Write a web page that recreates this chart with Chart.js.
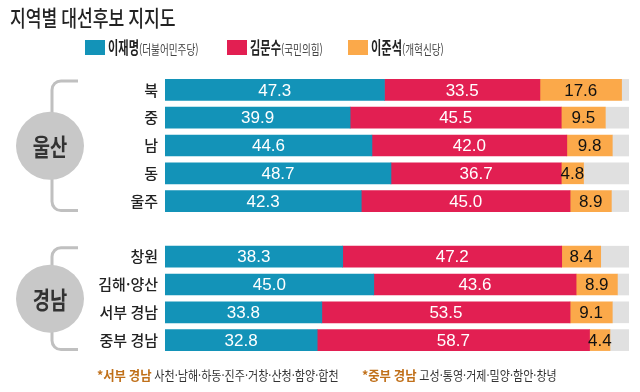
<!DOCTYPE html>
<html lang="ko">
<head>
<meta charset="utf-8">
<script src="https://cdn.jsdelivr.net/npm/chart.js@4/dist/chart.umd.min.js"></script>
<style>
  html, body { margin: 0; padding: 0; background: #fff; }
  #wrap { width: 640px; height: 392px; position: relative; }
</style>
</head>
<body>
<div id="wrap"><canvas id="chart" width="640" height="392"></canvas></div>
<script>
// categories (blank entry = gap between 울산 and 경남 groups)
const regions = ['북', '중', '남', '동', '울주', '', '창원', '김해·양산', '서부 경남', '중부 경남'];
const leeJM = [47.3, 39.9, 44.6, 48.7, 42.3, null, 38.3, 45.0, 33.8, 32.8];
const kimMS = [33.5, 45.5, 42.0, 36.7, 45.0, null, 47.2, 43.6, 53.5, 58.7];
const leeJS = [17.6, 9.5, 9.8, 4.8, 8.9, null, 8.4, 8.9, 9.1, 4.4];
// rest up to 100% (grey background part)
const rest = leeJM.map((v, i) => v == null ? null : +(100 - v - kimMS[i] - leeJS[i]).toFixed(1));

const groups = [
  { name: '울산', from: 0, to: 4 },
  { name: '경남', from: 6, to: 9 }
];

const BLUE = '#1393b8';
const RED = '#e21f52';
const ORANGE = '#fba94a';
const GREY = '#e0e0e0';

const KFONT = '"Noto Sans CJK KR", "Noto Sans", sans-serif';
const NFONT = '"Liberation Sans", Arial, sans-serif';

// draw horizontally squeezed text, returns drawn width
function drawText(ctx, text, x, y, font, color, sx) {
  ctx.save();
  ctx.font = font;
  ctx.fillStyle = color;
  ctx.textBaseline = 'middle';
  ctx.textAlign = 'left';
  ctx.translate(x, y);
  ctx.scale(sx, 1);
  ctx.fillText(text, 0, 0);
  const w = ctx.measureText(text).width * sx;
  ctx.restore();
  return w;
}

const decorations = {
  id: 'decorations',
  beforeDatasetsDraw(chart) {
    const ctx = chart.ctx;
    const y = chart.scales.y;

    // title
    drawText(ctx, '지역별 대선후보 지지도', 10, 18, '500 22px ' + KFONT, '#222', 0.78);

    // legend
    const legend = [
      { color: BLUE, name: '이재명', party: '(더불어민주당)', x: 85 },
      { color: RED, name: '김문수', party: '(국민의힘)', x: 227 },
      { color: ORANGE, name: '이준석', party: '(개혁신당)', x: 348 }
    ];
    legend.forEach(l => {
      ctx.fillStyle = l.color;
      ctx.fillRect(l.x, 40, 20, 15);
      const w = drawText(ctx, l.name, l.x + 23, 48, 'bold 17px ' + KFONT, '#222', 0.66);
      drawText(ctx, l.party, l.x + 23 + w, 49, '13px ' + KFONT, '#444', 0.74);
    });

    // brackets + circles
    groups.forEach(g => {
      const top = y.getPixelForValue(g.from) - 9;
      const bottom = y.getPixelForValue(g.to) + 9.5;
      const lx = 52, rx = 78, r = 9;
      ctx.save();
      ctx.strokeStyle = '#c0c0c0';
      ctx.lineWidth = 3;
      ctx.beginPath();
      ctx.moveTo(rx, top);
      ctx.lineTo(lx + r, top);
      ctx.arcTo(lx, top, lx, top + r, r);
      ctx.lineTo(lx, bottom - r);
      ctx.arcTo(lx, bottom, lx + r, bottom, r);
      ctx.lineTo(rx, bottom);
      ctx.stroke();
      const cy = (top + bottom) / 2;
      ctx.fillStyle = '#c8c8c8';
      ctx.beginPath();
      ctx.arc(50, cy, 34, 0, Math.PI * 2);
      ctx.fill();
      ctx.restore();
      ctx.save();
      ctx.font = 'bold 24px ' + KFONT;
      const tw = ctx.measureText(g.name).width * 0.78;
      ctx.restore();
      drawText(ctx, g.name, 50 - tw / 2, cy + 1, 'bold 24px ' + KFONT, '#333', 0.78);
    });

    // footnote
    let x = 97;
    x += drawText(ctx, '*서부 경남 ', x, 375, 'bold 13px ' + KFONT, '#c0701a', 0.95);
    drawText(ctx, '사천·남해·하동·진주·거창·산청·함양·합천', x, 375, '13px ' + KFONT, '#333', 0.85);
    x = 362;
    x += drawText(ctx, '*중부 경남 ', x, 375, 'bold 13px ' + KFONT, '#c0701a', 0.95);
    drawText(ctx, '고성·통영·거제·밀양·함안·창녕', x, 375, '13px ' + KFONT, '#333', 0.85);
  },
  afterDatasetsDraw(chart) {
    const ctx = chart.ctx;
    ctx.save();
    ctx.font = '17px ' + NFONT;
    ctx.textAlign = 'center';
    ctx.textBaseline = 'middle';
    chart.data.datasets.forEach((ds, di) => {
      if (!ds.showLabel) return;
      const meta = chart.getDatasetMeta(di);
      meta.data.forEach((el, i) => {
        const v = ds.data[i];
        if (v == null) return;
        ctx.fillStyle = ds.labelColor;
        ctx.fillText(v.toFixed(1), (el.x + el.base) / 2, el.y + 1);
      });
    });
    ctx.restore();
  }
};

new Chart(document.getElementById('chart'), {
  type: 'bar',
  data: {
    labels: regions,
    datasets: [
      { label: '이재명', data: leeJM, backgroundColor: BLUE, showLabel: true, labelColor: '#fff' },
      { label: '김문수', data: kimMS, backgroundColor: RED, showLabel: true, labelColor: '#fff' },
      { label: '이준석', data: leeJS, backgroundColor: ORANGE, showLabel: true, labelColor: '#111' },
      { label: '', data: rest, backgroundColor: GREY, showLabel: false }
    ]
  },
  options: {
    indexAxis: 'y',
    responsive: false,
    animation: false,
    barThickness: 21,
    layout: { padding: { top: 76, bottom: 38, left: 0, right: 11 } },
    plugins: {
      legend: { display: false },
      title: { display: false },
      tooltip: { enabled: false }
    },
    scales: {
      x: { stacked: true, min: 0, max: 100, display: false },
      y: {
        stacked: true,
        grid: { display: false, drawTicks: false },
        border: { display: false },
        ticks: { color: '#222', font: { family: KFONT, size: 15, weight: '500' }, padding: 7 },
        afterFit(scale) { scale.width = 165; }
      }
    }
  },
  plugins: [decorations]
});
</script>
</body>
</html>
